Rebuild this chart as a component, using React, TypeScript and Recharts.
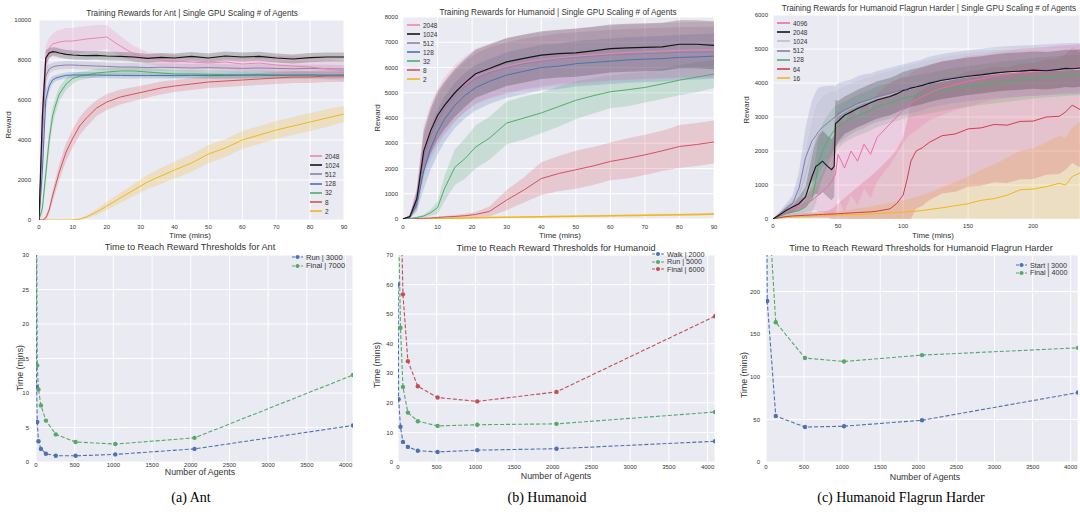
import React from 'react';
import { ComposedChart, Line, Area, XAxis, YAxis, CartesianGrid } from 'recharts';

// ---------- shared look ----------
const FONT = '"Liberation Sans", Arial, sans-serif';
const BG = '#EAEAF2';
const TXT = '#333';
const COL: Record<string, string> = {
  '4096': '#ec7fb4',
  '2048': '#ec84b8',
  '1024': '#151515',
  '512': '#8e82a8',
  '128': '#4c72b0',
  '32': '#4fae6a',
  '8': '#d9505a',
  '2': '#f0b81c',
};

// ---------- Ant: training curves ----------
const antT = [0, 1, 2, 3, 4, 5, 6, 8, 10, 12, 14, 17, 20, 24, 28, 32, 36, 40, 45, 50, 55, 60, 65, 70, 75, 80, 85, 90];
const ant2048 = [0, 4500, 7800, 8600, 8800, 8850, 8900, 8950, 8950, 9000, 9050, 9100, 9150, 8700, 8300, 8100, 8000, 7950, 7900, 7850, 7900, 7800, 7850, 7750, 7700, 7650, 7550, 7450];
const ant2048Sd = [0, 1200, 900, 500, 500, 600, 600, 650, 650, 650, 650, 650, 600, 500, 400, 300, 300, 300, 300, 300, 350, 350, 400, 450, 500, 500, 500, 500];
const ant1024 = [0, 5200, 8100, 8350, 8420, 8400, 8350, 8280, 8250, 8230, 8220, 8230, 8200, 8180, 8150, 8080, 8130, 8100, 8180, 8100, 8200, 8150, 8180, 8100, 8050, 8120, 8150, 8150];
const ant1024Sd = [0, 900, 400, 250, 220, 220, 220, 220, 220, 220, 220, 220, 220, 220, 220, 220, 220, 220, 220, 220, 220, 220, 230, 230, 230, 230, 230, 230];
const ant512 = [0, 4200, 7200, 7550, 7650, 7700, 7720, 7750, 7750, 7730, 7720, 7700, 7680, 7650, 7650, 7620, 7640, 7620, 7600, 7620, 7600, 7580, 7600, 7580, 7560, 7580, 7560, 7550];
const ant512Sd = [0, 1000, 500, 250, 200, 200, 200, 200, 200, 200, 200, 200, 200, 200, 200, 200, 200, 200, 200, 200, 200, 200, 200, 200, 200, 200, 200, 200];
const ant128 = [0, 2500, 6000, 6700, 7000, 7100, 7150, 7230, 7250, 7250, 7250, 7250, 7240, 7230, 7220, 7220, 7230, 7220, 7230, 7220, 7230, 7240, 7240, 7230, 7240, 7250, 7240, 7250];
const ant128Sd = [0, 800, 500, 300, 200, 150, 150, 150, 150, 150, 150, 150, 150, 150, 150, 150, 150, 150, 150, 150, 150, 150, 150, 150, 150, 150, 150, 150];
const ant32 = [0, 600, 2300, 4000, 5200, 5800, 6300, 6800, 7080, 7200, 7250, 7350, 7400, 7450, 7450, 7400, 7350, 7300, 7300, 7280, 7270, 7260, 7280, 7260, 7250, 7250, 7240, 7250];
const ant32Sd = [0, 300, 500, 500, 450, 400, 350, 300, 250, 200, 200, 200, 200, 200, 200, 200, 200, 200, 200, 200, 200, 200, 200, 200, 200, 200, 200, 200];
const ant8 = [0, 0, 100, 500, 1200, 1800, 2400, 3400, 4100, 4700, 5100, 5600, 5900, 6150, 6300, 6450, 6600, 6700, 6800, 6900, 6950, 7000, 7050, 7100, 7150, 7150, 7200, 7200];
const ant8Sd = [0, 0, 100, 200, 300, 350, 400, 450, 450, 450, 450, 400, 400, 380, 350, 330, 320, 300, 300, 300, 300, 300, 300, 300, 300, 300, 300, 300];
const ant2 = [0, 0, 0, 0, 0, 0, 0, 0, 0, 50, 150, 400, 700, 1100, 1500, 1900, 2200, 2500, 2850, 3300, 3600, 4000, 4250, 4500, 4700, 4900, 5100, 5300];
const ant2Sd = [0, 0, 0, 0, 0, 0, 0, 0, 0, 30, 80, 150, 200, 250, 300, 350, 400, 420, 450, 450, 450, 450, 450, 450, 450, 450, 450, 400];

// ---------- Humanoid: training curves ----------
const humT = [0, 2, 4, 6, 8, 10, 12, 15, 18, 21, 25, 30, 35, 40, 45, 50, 55, 60, 65, 70, 75, 80, 85, 90];
const hum2048 = [0, 120, 900, 2800, 3550, 4100, 4500, 5000, 5350, 5650, 5850, 6050, 6200, 6300, 6380, 6450, 6500, 6550, 6600, 6620, 6650, 6680, 6700, 6700];
const hum2048Sd = [0, 60, 400, 900, 1000, 1050, 1100, 1100, 1100, 1100, 1100, 1100, 1100, 1100, 1100, 1100, 1100, 1100, 1100, 1100, 1100, 1100, 1100, 1100];
const hum1024 = [0, 100, 800, 2700, 3500, 4100, 4500, 5000, 5400, 5750, 5960, 6220, 6360, 6490, 6550, 6580, 6660, 6750, 6780, 6800, 6820, 6920, 6920, 6880];
const hum1024Sd = [0, 50, 350, 800, 900, 950, 950, 950, 950, 950, 950, 950, 950, 950, 950, 950, 950, 950, 950, 950, 950, 950, 950, 950];
const hum512 = [0, 80, 700, 2500, 3300, 3900, 4350, 4850, 5250, 5550, 5800, 6000, 6150, 6250, 6350, 6400, 6450, 6500, 6520, 6550, 6570, 6600, 6600, 6620];
const hum512Sd = [0, 50, 350, 800, 950, 1000, 1000, 1000, 1000, 1000, 1000, 1000, 1000, 1000, 1000, 1000, 1000, 1000, 1000, 1000, 1000, 1000, 1000, 1000];
const hum128 = [0, 60, 600, 1900, 2800, 3450, 3950, 4500, 4900, 5200, 5450, 5700, 5850, 6000, 6050, 6150, 6200, 6250, 6300, 6330, 6350, 6400, 6420, 6450];
const hum128Sd = [0, 40, 300, 700, 850, 900, 900, 900, 900, 900, 900, 900, 900, 900, 900, 900, 900, 900, 900, 900, 900, 900, 900, 900];
const hum32 = [0, 20, 60, 120, 250, 450, 1200, 2050, 2400, 2850, 3200, 3800, 4000, 4200, 4450, 4700, 4880, 5040, 5120, 5210, 5350, 5500, 5620, 5740];
const hum32Sd = [0, 10, 30, 60, 120, 250, 500, 700, 800, 850, 850, 850, 850, 800, 800, 750, 700, 650, 650, 600, 600, 600, 600, 550];
const hum8 = [0, 10, 20, 30, 40, 60, 80, 100, 130, 180, 300, 750, 1150, 1600, 1800, 1950, 2100, 2280, 2400, 2540, 2700, 2870, 2950, 3050];
const hum8Sd = [0, 0, 10, 10, 20, 30, 40, 60, 80, 100, 200, 400, 500, 650, 700, 750, 750, 750, 800, 800, 800, 850, 850, 850];
const hum2 = [0, 0, 5, 10, 15, 20, 25, 30, 40, 50, 60, 70, 80, 90, 100, 110, 120, 130, 140, 150, 160, 170, 180, 200];
const hum2Sd = [0, 0, 5, 10, 10, 15, 15, 20, 20, 25, 25, 30, 30, 30, 35, 35, 40, 40, 40, 45, 45, 50, 50, 50];

// ---------- Humanoid Flagrun Harder: training curves ----------
const flT = [0, 5, 10, 15, 20, 25, 30, 33, 35, 38, 42, 45, 47, 48, 50, 55, 60, 65, 70, 75, 80, 90, 95, 100, 103, 106, 110, 115, 120, 130, 140, 150, 160, 170, 180, 190, 200, 210, 220, 225, 230, 236];
const fl4096 = [0, 100, 200, 280, 350, 450, 550, 650, 700, 800, 950, 1100, 1250, 1300, 1900, 1500, 2000, 1700, 2200, 1900, 2400, 2800, 3000, 3200, 3300, 3400, 3500, 3600, 3700, 3850, 3950, 4050, 4120, 4200, 4250, 4300, 4330, 4360, 4400, 4420, 4420, 4450];
const fl4096Sd = [0, 50, 100, 150, 200, 250, 300, 400, 500, 600, 800, 1000, 1100, 1200, 1300, 1300, 1300, 1300, 1300, 1300, 1300, 1200, 1100, 1000, 900, 900, 900, 850, 800, 800, 750, 750, 700, 700, 700, 700, 700, 700, 700, 700, 700, 700];
const fl2048 = [0, 120, 250, 350, 450, 650, 1250, 1550, 1600, 1700, 1550, 1450, 1550, 2800, 2870, 3050, 3150, 3250, 3330, 3420, 3500, 3600, 3680, 3780, 3800, 3850, 3880, 3930, 3990, 4080, 4140, 4200, 4240, 4290, 4330, 4350, 4380, 4360, 4400, 4430, 4420, 4440];
const fl2048Sd = [0, 50, 100, 150, 200, 300, 600, 800, 900, 900, 900, 900, 900, 700, 600, 550, 550, 550, 550, 550, 550, 550, 550, 550, 550, 550, 550, 550, 550, 550, 550, 550, 550, 550, 550, 550, 550, 550, 550, 550, 550, 550];
const fl1024 = [0, 120, 260, 400, 700, 1300, 2000, 2300, 2450, 2600, 2750, 2850, 2900, 2950, 3030, 3150, 3250, 3350, 3420, 3480, 3550, 3650, 3720, 3780, 3800, 3830, 3870, 3920, 3980, 4050, 4120, 4180, 4220, 4260, 4300, 4320, 4340, 4360, 4380, 4390, 4400, 4400];
const fl1024Sd = [0, 60, 120, 200, 400, 700, 900, 1000, 1000, 1000, 950, 900, 850, 800, 800, 750, 750, 700, 700, 700, 700, 700, 700, 700, 700, 700, 700, 700, 700, 700, 700, 700, 700, 700, 700, 700, 700, 700, 700, 700, 700, 700];
const fl512 = [0, 150, 300, 450, 900, 1800, 2300, 2450, 2570, 2700, 2820, 2920, 2980, 3000, 3100, 3200, 3300, 3400, 3460, 3530, 3600, 3700, 3750, 3800, 3830, 3860, 3900, 3950, 4020, 4100, 4160, 4210, 4260, 4300, 4330, 4350, 4370, 4390, 4410, 4420, 4430, 4430];
const fl512Sd = [0, 80, 150, 250, 500, 900, 1200, 1300, 1300, 1200, 1100, 1000, 950, 900, 900, 850, 800, 800, 800, 750, 750, 750, 750, 750, 750, 750, 750, 750, 750, 750, 750, 750, 750, 750, 750, 750, 750, 750, 750, 750, 750, 750];
const fl128 = [0, 80, 150, 200, 250, 350, 600, 1150, 1650, 2000, 2300, 2500, 2600, 2650, 2720, 2850, 2960, 3050, 3120, 3200, 3300, 3420, 3480, 3550, 3580, 3600, 3630, 3670, 3700, 3780, 3850, 3900, 3950, 4000, 4050, 4090, 4140, 4170, 4200, 4220, 4230, 4240];
const fl128Sd = [0, 50, 80, 100, 120, 200, 400, 700, 800, 800, 750, 700, 700, 700, 650, 600, 600, 600, 600, 600, 600, 600, 600, 600, 600, 600, 600, 600, 600, 600, 600, 600, 600, 600, 600, 600, 600, 600, 600, 600, 600, 600];
const fl64 = [0, 40, 70, 90, 100, 110, 120, 125, 130, 135, 140, 145, 150, 150, 155, 165, 180, 190, 200, 210, 230, 300, 450, 700, 1150, 1700, 2000, 2100, 2250, 2450, 2500, 2650, 2680, 2780, 2760, 2870, 2880, 3000, 3020, 3150, 3350, 3220];
const fl64Sd = [0, 20, 40, 50, 60, 70, 80, 80, 90, 90, 100, 150, 200, 250, 300, 450, 600, 750, 900, 1050, 1200, 1500, 1600, 1700, 1700, 1700, 1700, 1700, 1700, 1700, 1700, 1700, 1700, 1700, 1700, 1700, 1700, 1700, 1700, 1700, 1700, 1700];
const fl16 = [0, 30, 50, 60, 70, 80, 90, 95, 100, 100, 110, 110, 115, 115, 120, 125, 130, 135, 140, 150, 160, 180, 190, 200, 210, 220, 230, 250, 280, 330, 390, 450, 550, 600, 700, 860, 880, 950, 1050, 1000, 1250, 1350];
const fl16Sd = [0, 20, 30, 40, 50, 60, 70, 70, 80, 80, 90, 90, 100, 100, 100, 120, 150, 180, 200, 220, 250, 300, 320, 350, 370, 390, 420, 460, 500, 600, 700, 800, 900, 1000, 1100, 1150, 1200, 1300, 1400, 1400, 1450, 1500];

// ---------- time to reach thresholds ----------
const antAgents = [2, 8, 16, 32, 64, 128, 256, 512, 1024, 2048, 4096];
const antRun = [45, 10.9, 5.8, 3.0, 1.9, 1.2, 0.9, 0.9, 1.1, 1.9, 5.3];
const antFinal = [60, 35, 14.0, 10.5, 8.2, 6.0, 4.0, 2.9, 2.6, 3.5, 12.6];

const humAgents = [2, 8, 32, 64, 128, 256, 512, 1024, 2048, 4096];
const humWalk = [60, 21.2, 11.9, 6.8, 5.1, 3.8, 3.4, 4.0, 4.5, 7.0];
const humRun = [120, 80, 45.4, 25.4, 16.7, 13.8, 12.2, 12.6, 12.9, 16.9];
const humFinal = [150, 120, 95, 56.7, 34.1, 25.6, 21.8, 20.5, 23.7, 49.3];

const flAgents = [4, 16, 128, 512, 1024, 2048, 4096];
const flStart = [450, 189, 54, 41, 42, 49, 81.5];
const flFinal = [500, 330, 164, 122, 118, 125.5, 134];

// ---------- helpers ----------
type S = { key: string; color: string; mean: number[]; sd: number[]; w?: number };

const band = (m: number[], s: number[]) => m.map((v, i) => [v - s[i], v + s[i]]);

function rows(t: number[], series: S[]) {
  return t.map((x, i) => {
    const r: any = { x };
    series.forEach((s) => {
      r['m' + s.key] = s.mean[i];
      r['b' + s.key] = band(s.mean, s.sd)[i];
    });
    return r;
  });
}

type Box = { x0: number; y0: number; x1: number; y1: number };
const PL = 40, PT = 4, PR = 4, PB = 18;

function Plot(props: {
  box: Box; data: any[]; xDomain: number[]; xTicks: number[]; yDomain: number[]; yTicks: number[];
  xm: number; ym: number; children: React.ReactNode;
}) {
  const { box } = props;
  const w = box.x1 - box.x0 + PL + PR;
  const h = box.y1 - box.y0 + PT + PB;
  const tick = { fontSize: 6, fill: TXT, fontFamily: FONT };
  return (
    <div style={{ position: 'absolute', left: box.x0 - PL, top: box.y0 - PT }}>
      <ComposedChart width={w} height={h} data={props.data} margin={{ top: PT, right: PR, bottom: 0, left: 0 }}>
        <CartesianGrid fill={BG} stroke="#ffffff" strokeWidth={1} />
        <XAxis type="number" dataKey="x" domain={props.xDomain} ticks={props.xTicks} interval={0} allowDataOverflow
          axisLine={false} tickLine={false} tickSize={0} tickMargin={props.xm} height={PB} tick={tick} />
        <YAxis type="number" domain={props.yDomain} ticks={props.yTicks} interval={0} allowDataOverflow
          axisLine={false} tickLine={false} tickSize={0} tickMargin={props.ym} width={PL} tick={tick} />
        {props.children}
      </ComposedChart>
    </div>
  );
}

function Txt({ x, y, size, rot, serif, children }: any) {
  return (
    <div style={{
      position: 'absolute', left: x, top: y, whiteSpace: 'nowrap', lineHeight: 1,
      transform: `translate(-50%,-50%)${rot ? ' rotate(-90deg)' : ''}`,
      fontSize: size, color: serif ? '#000' : TXT,
      fontFamily: serif ? '"Liberation Serif", "Times New Roman", serif' : FONT,
    }}>{children}</div>
  );
}

function Key({ x, y, gap, len, size, items, dots }: { x: number; y: number; gap: number; len: number; size: number; items: { label: string; color: string }[]; dots?: boolean }) {
  return (
    <>
      {items.map((it, i) => (
        <div key={it.label} style={{ position: 'absolute', left: x, top: y + i * gap - 4, height: 8, display: 'flex', alignItems: 'center' }}>
          <svg width={len} height={8}>
            <line x1={0} x2={len} y1={4} y2={4} stroke={it.color} strokeWidth={dots ? 1 : 1.6} strokeDasharray={dots ? '3 1.5' : undefined} />
            {dots && <circle cx={len / 2} cy={4} r={2} fill={it.color} />}
          </svg>
          <span style={{ marginLeft: 3, fontSize: size, color: TXT, fontFamily: FONT, whiteSpace: 'nowrap' }}>{it.label}</span>
        </div>
      ))}
    </>
  );
}

function curves(series: S[]) {
  return [
    ...series.map((s) => (
      <Area key={'b' + s.key} type="linear" dataKey={'b' + s.key} stroke="none" fill={s.color} fillOpacity={0.22} isAnimationActive={false} />
    )),
    ...series.map((s) => (
      <Line key={'m' + s.key} type="linear" dataKey={'m' + s.key} stroke={s.color} strokeWidth={s.w ?? 1} dot={false} isAnimationActive={false} />
    )),
  ];
}

function marks(keys: { key: string; color: string }[]) {
  return keys.map((k) => (
    <Line key={k.key} type="linear" dataKey={k.key} stroke={k.color} strokeWidth={1.1} strokeDasharray="4 2"
      dot={{ r: 2.2, fill: k.color, stroke: k.color, strokeWidth: 0 }} isAnimationActive={false} />
  ));
}

// ---------- series tables ----------
const antSeries: S[] = [
  { key: '2', color: COL['2'], mean: ant2, sd: ant2Sd },
  { key: '8', color: COL['8'], mean: ant8, sd: ant8Sd },
  { key: '32', color: COL['32'], mean: ant32, sd: ant32Sd },
  { key: '128', color: COL['128'], mean: ant128, sd: ant128Sd },
  { key: '512', color: COL['512'], mean: ant512, sd: ant512Sd },
  { key: '2048', color: COL['2048'], mean: ant2048, sd: ant2048Sd },
  { key: '1024', color: COL['1024'], mean: ant1024, sd: ant1024Sd, w: 1.2 },
];
const humSeries: S[] = [
  { key: '2', color: COL['2'], mean: hum2, sd: hum2Sd, w: 1.4 },
  { key: '8', color: COL['8'], mean: hum8, sd: hum8Sd },
  { key: '32', color: COL['32'], mean: hum32, sd: hum32Sd },
  { key: '128', color: COL['128'], mean: hum128, sd: hum128Sd },
  { key: '512', color: COL['512'], mean: hum512, sd: hum512Sd },
  { key: '2048', color: COL['2048'], mean: hum2048, sd: hum2048Sd },
  { key: '1024', color: COL['1024'], mean: hum1024, sd: hum1024Sd, w: 1.2 },
];
const flSeries: S[] = [
  { key: '16', color: COL['2'], mean: fl16, sd: fl16Sd },
  { key: '64', color: '#d43c4c', mean: fl64, sd: fl64Sd },
  { key: '128', color: COL['32'], mean: fl128, sd: fl128Sd },
  { key: '1024', color: '#bdbdc4', mean: fl1024, sd: fl1024Sd },
  { key: '512', color: '#7d7fb6', mean: fl512, sd: fl512Sd },
  { key: '4096', color: '#f06aa8', mean: fl4096, sd: fl4096Sd },
  { key: '2048', color: COL['1024'], mean: fl2048, sd: fl2048Sd, w: 1.1 },
];

const antRows = rows(antT, antSeries);
const humRows = rows(humT, humSeries);
const flRows = rows(flT, flSeries);
const antBottom = antAgents.map((x, i) => ({ x, run: antRun[i], fin: antFinal[i] }));
const humBottom = humAgents.map((x, i) => ({ x, walk: humWalk[i], run: humRun[i], fin: humFinal[i] }));
const flBottom = flAgents.map((x, i) => ({ x, start: flStart[i], fin: flFinal[i] }));

const legendOrder = (series: S[], order: string[]) => order.map((k) => {
  const s = series.find((v) => v.key === k)!;
  return { label: k, color: s.color };
});

const agentTicks = [0, 500, 1000, 1500, 2000, 2500, 3000, 3500, 4000];
const BLUE = '#4c72b0', GREEN = '#55a868', RED = '#c44e52';

export default function App() {
  return (
    <div style={{ position: 'absolute', left: 0, top: 0, width: 1080, height: 516, overflow: 'hidden', background: '#fff', fontFamily: FONT }}>
      {/* ---- top row ---- */}
      <Plot box={{ x0: 39, y0: 20, x1: 344, y1: 220 }} data={antRows} xDomain={[0, 90]} xTicks={[0, 10, 20, 30, 40, 50, 60, 70, 80, 90]}
        yDomain={[0, 10000]} yTicks={[0, 2000, 4000, 6000, 8000, 10000]} xm={5} ym={8}>
        {curves(antSeries)}
      </Plot>
      <Plot box={{ x0: 403, y0: 17, x1: 714, y1: 219 }} data={humRows} xDomain={[0, 90]} xTicks={[0, 10, 20, 30, 40, 50, 60, 70, 80, 90]}
        yDomain={[0, 8000]} yTicks={[0, 1000, 2000, 3000, 4000, 5000, 6000, 7000, 8000]} xm={5.5} ym={5}>
        {curves(humSeries)}
      </Plot>
      <Plot box={{ x0: 773, y0: 15, x1: 1080, y1: 219 }} data={flRows} xDomain={[0, 236]} xTicks={[0, 50, 100, 150, 200]}
        yDomain={[0, 6000]} yTicks={[0, 1000, 2000, 3000, 4000, 5000, 6000]} xm={5} ym={5}>
        {curves(flSeries)}
      </Plot>

      {/* ---- bottom row ---- */}
      <Plot box={{ x0: 36, y0: 255, x1: 353, y1: 462 }} data={antBottom} xDomain={[0, 4096]} xTicks={agentTicks}
        yDomain={[0, 30]} yTicks={[0, 5, 10, 15, 20, 25, 30]} xm={1} ym={7}>
        {marks([{ key: 'run', color: BLUE }, { key: 'fin', color: GREEN }])}
      </Plot>
      <Plot box={{ x0: 398, y0: 255, x1: 715, y1: 462 }} data={humBottom} xDomain={[0, 4096]} xTicks={agentTicks}
        yDomain={[0, 70]} yTicks={[0, 10, 20, 30, 40, 50, 60, 70]} xm={3} ym={5}>
        {marks([{ key: 'walk', color: BLUE }, { key: 'run', color: GREEN }, { key: 'fin', color: RED }])}
      </Plot>
      <Plot box={{ x0: 766, y0: 255, x1: 1078, y1: 462 }} data={flBottom} xDomain={[0, 4096]} xTicks={agentTicks}
        yDomain={[0, 243]} yTicks={[0, 50, 100, 150, 200]} xm={3} ym={6}>
        {marks([{ key: 'start', color: BLUE }, { key: 'fin', color: GREEN }])}
      </Plot>

      {/* ---- titles ---- */}
      <Txt x={192} y={14} size={8.2}>Training Rewards for Ant | Single GPU Scaling # of Agents</Txt>
      <Txt x={558} y={12.5} size={8.2}>Training Rewards for Humanoid | Single GPU Scaling # of Agents</Txt>
      <Txt x={929} y={8.5} size={8.2}>Training Rewards for Humanoid Flagrun Harder | Single GPU Scaling # of Agents</Txt>
      <Txt x={190} y={248} size={9.2}>Time to Reach Reward Thresholds for Ant</Txt>
      <Txt x={556} y={249} size={9.2}>Time to Reach Reward Thresholds for Humanoid</Txt>
      <Txt x={921} y={249} size={9.2}>Time to Reach Reward Thresholds for Humanoid Flagrun Harder</Txt>

      {/* ---- axis labels ---- */}
      <Txt x={190} y={235.5} size={8}>Time (mins)</Txt>
      <Txt x={560} y={236} size={8}>Time (mins)</Txt>
      <Txt x={933} y={236} size={8}>Time (mins)</Txt>
      <Txt x={200} y={472} size={8.8}>Number of Agents</Txt>
      <Txt x={556} y={476} size={8.8}>Number of Agents</Txt>
      <Txt x={925} y={477} size={8.8}>Number of Agents</Txt>
      <Txt x={9} y={125} size={8} rot>Reward</Txt>
      <Txt x={378} y={118} size={8} rot>Reward</Txt>
      <Txt x={747} y={110} size={8} rot>Reward</Txt>
      <Txt x={20} y={368} size={8.8} rot>Time (mins)</Txt>
      <Txt x={377} y={365} size={8.8} rot>Time (mins)</Txt>
      <Txt x={744} y={375} size={8.8} rot>Time (mins)</Txt>

      {/* ---- legends ---- */}
      <Key x={310} y={156} gap={9.2} len={12} size={6.5} items={legendOrder(antSeries, ['2048', '1024', '512', '128', '32', '8', '2'])} />
      <Key x={407} y={25} gap={9} len={13} size={6.5} items={legendOrder(humSeries, ['2048', '1024', '512', '128', '32', '8', '2'])} />
      <Key x={777} y={23} gap={9.2} len={13} size={6.5} items={legendOrder(flSeries, ['4096', '2048', '1024', '512', '128', '64', '16'])} />
      <Key x={292} y={257} gap={8.5} len={11} size={7.5} dots items={[{ label: 'Run | 3000', color: BLUE }, { label: 'Final | 7000', color: GREEN }]} />
      <Key x={652} y={254} gap={7.5} len={12} size={7.2} dots items={[{ label: 'Walk | 2000', color: BLUE }, { label: 'Run | 5000', color: GREEN }, { label: 'Final | 6000', color: RED }]} />
      <Key x={1016} y={265} gap={7.5} len={11} size={7.2} dots items={[{ label: 'Start | 3000', color: BLUE }, { label: 'Final | 4000', color: GREEN }]} />

      {/* ---- captions ---- */}
      <Txt x={191} y={498} size={14} serif>(a) Ant</Txt>
      <Txt x={547} y={498} size={14} serif>(b) Humanoid</Txt>
      <Txt x={901} y={498} size={14} serif>(c) Humanoid Flagrun Harder</Txt>
    </div>
  );
}
